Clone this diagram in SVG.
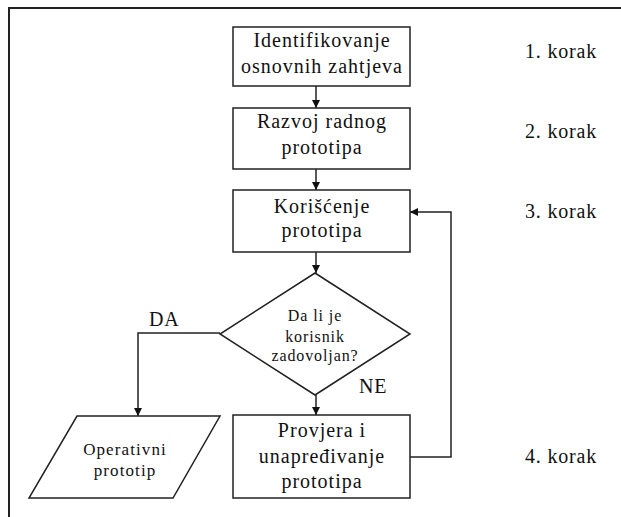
<svg xmlns="http://www.w3.org/2000/svg" width="621" height="517" viewBox="0 0 621 517">
<defs>
<marker id="ah" markerWidth="8" markerHeight="8" refX="8" refY="4" orient="auto" markerUnits="userSpaceOnUse">
<path d="M0,0 L8,4 L0,8 Z" fill="#111"/>
</marker>
<style>
.shape{fill:#fff;stroke:#222;stroke-width:1.5}
text{font-family:'Liberation Serif','Times New Roman',serif;fill:#111}
.t{font-size:20px;text-anchor:middle;letter-spacing:1px}
.s{font-size:16px;text-anchor:middle;letter-spacing:0.9px}
.p{font-size:17px;text-anchor:middle;letter-spacing:1.1px}
.k{font-size:20px;letter-spacing:0.8px}
.c{fill:none;stroke:#222;stroke-width:1.5}
</style>
</defs>
<rect width="621" height="517" fill="#fff"/>
<path d="M9,530 L9,8 L640,8" fill="none" stroke="#222" stroke-width="2"/>

<g id="connectors">
<line class="c" x1="316" y1="86" x2="316" y2="108" marker-end="url(#ah)"/>
<line class="c" x1="316" y1="169" x2="316" y2="190" marker-end="url(#ah)"/>
<line class="c" x1="316" y1="252" x2="316" y2="273" marker-end="url(#ah)"/>
<polyline class="c" points="220,333 138,333 138,416" marker-end="url(#ah)"/>
<line class="c" x1="316" y1="395" x2="316" y2="415" marker-end="url(#ah)"/>
<polyline class="c" points="410,457 451,457 451,212 410,212" marker-end="url(#ah)"/>
<text class="k" x="149" y="326">DA</text>
<text class="k" x="359" y="393">NE</text>
</g>

<g id="n1">
<rect class="shape" x="233" y="27" width="177" height="59"/>
<text class="t" x="322" y="47">Identifikovanje</text>
<text class="t" x="322" y="73">osnovnih zahtjeva</text>
</g>
<g id="n2">
<rect class="shape" x="233" y="108" width="177" height="61"/>
<text class="t" x="322" y="128">Razvoj radnog</text>
<text class="t" x="322" y="154">prototipa</text>
</g>
<g id="n3">
<rect class="shape" x="233" y="190" width="177" height="62"/>
<text class="t" x="322" y="213">Korišćenje</text>
<text class="t" x="322" y="237">prototipa</text>
</g>
<g id="n4">
<polygon class="shape" points="315,273 410,334 315,395 220,334"/>
<text class="s" x="315" y="321">Da li je</text>
<text class="s" x="315" y="342">korisnik</text>
<text class="s" x="315" y="361">zadovoljan?</text>
</g>
<g id="n5">
<polygon class="shape" points="77,416 220,416 173,498 29,498"/>
<text class="p" x="125" y="455">Operativni</text>
<text class="p" x="125" y="476">prototip</text>
</g>
<g id="n6">
<rect class="shape" x="233" y="415" width="177" height="83"/>
<text class="t" x="322" y="437">Provjera i</text>
<text class="t" x="322" y="463">unapređivanje</text>
<text class="t" x="322" y="488">prototipa</text>
</g>

<g id="steps">
<text class="k" x="525" y="58">1. korak</text>
<text class="k" x="525" y="138">2. korak</text>
<text class="k" x="525" y="218">3. korak</text>
<text class="k" x="525" y="463">4. korak</text>
</g>
</svg>
